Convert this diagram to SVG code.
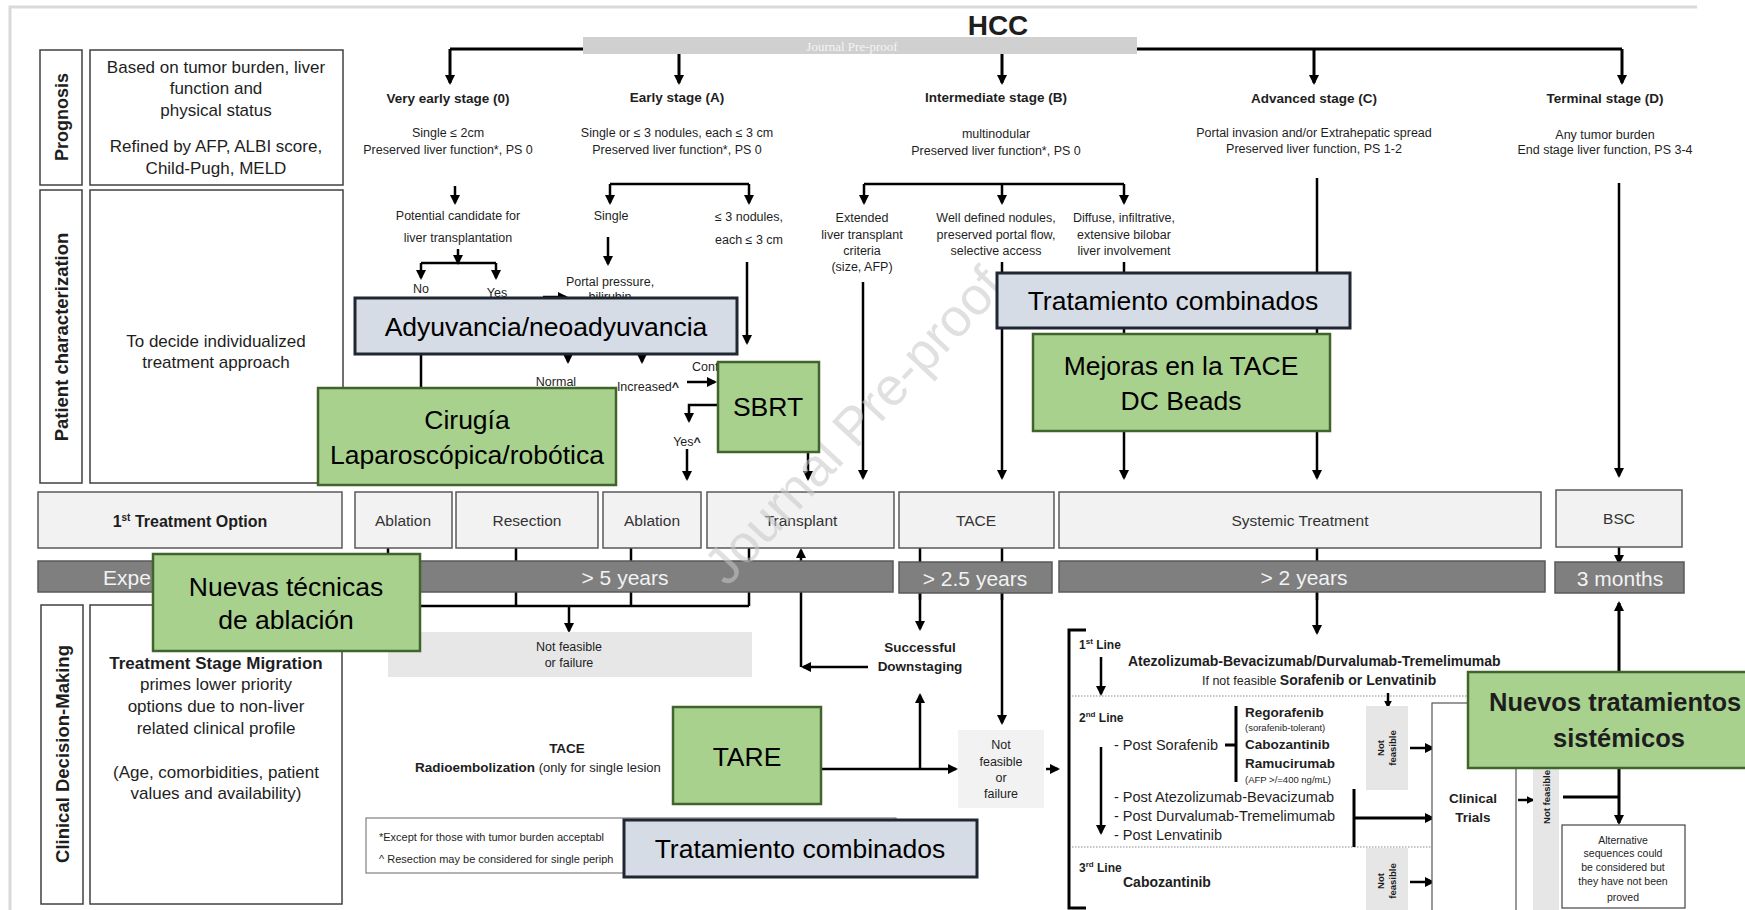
<svg xmlns="http://www.w3.org/2000/svg" width="1745" height="910" viewBox="0 0 1745 910">
<defs>
<marker id="ah" viewBox="0 0 10 10" refX="8" refY="5" markerWidth="10" markerHeight="10" markerUnits="userSpaceOnUse" orient="auto"><path d="M0,0 L10,5 L0,10 z" fill="#000"/></marker>
<marker id="as" viewBox="0 0 10 10" refX="8" refY="5" markerWidth="8" markerHeight="8" markerUnits="userSpaceOnUse" orient="auto"><path d="M0,0 L10,5 L0,10 z" fill="#000"/></marker>
<style>
.t{font-family:"Liberation Sans",Arial,sans-serif;fill:#1e1e1e}
.b{font-weight:bold}
.m{text-anchor:middle}
.box{fill:#fff;stroke:#404040;stroke-width:1.5}
.opt{fill:#f2f2f2;stroke:#595959;stroke-width:1.5}
.bar{fill:#7f7f7f;stroke:#595959;stroke-width:1.5}
.bart{fill:#f2f2f2;font-size:21px}
.grn{fill:#a9d18e;stroke:#41642c;stroke-width:2.5}
.blu{fill:#d6dce5;stroke:#1f2733;stroke-width:3}
.ov{font-size:26.5px;fill:#000}
.ln{stroke:#000;stroke-width:3;fill:none}
.th{stroke:#000;stroke-width:2.5;fill:none}
.a{marker-end:url(#ah)}
.s{marker-end:url(#as)}
.dot{stroke:#8c8c8c;stroke-width:1.2;stroke-dasharray:1.5 1.5;fill:none}
.strip{fill:#e6e6e6}
.sm{font-size:12.5px}
.opt-t{font-size:15.5px;fill:#333}
</style>
</defs>
<rect width="1745" height="910" fill="#fff"/>
<path d="M10,910 V7 H1697" fill="none" stroke="#d9d9d9" stroke-width="3"/>

<!-- connectors -->
<g id="connectors">
<path class="ln" d="M450,49 H1622"/>
<line class="ln a" x1="450" y1="49" x2="450" y2="83"/>
<line class="ln a" x1="679" y1="54" x2="679" y2="83"/>
<line class="ln a" x1="1002" y1="54" x2="1002" y2="83"/>
<line class="ln a" x1="1314" y1="49" x2="1314" y2="83"/>
<line class="ln a" x1="1622" y1="49" x2="1622" y2="83"/>
<line class="th a" x1="455" y1="186" x2="455" y2="203"/>
<line class="th a" x1="458" y1="249" x2="458" y2="263"/>
<path class="th" d="M421,263 H496"/>
<line class="th a" x1="421" y1="263" x2="421" y2="278"/>
<line class="th a" x1="496" y1="263" x2="496" y2="278"/>
<line class="th a" x1="421" y1="297" x2="421" y2="483"/>
<line class="th a" x1="543" y1="297" x2="566" y2="297"/>
<path class="th" d="M610,184 H749"/>
<line class="th a" x1="610" y1="184" x2="610" y2="203"/>
<line class="th a" x1="749" y1="184" x2="749" y2="203"/>
<line class="th a" x1="608" y1="237" x2="608" y2="264"/>
<line class="th a" x1="747" y1="262" x2="747" y2="343"/>
<line class="th a" x1="568" y1="345" x2="568" y2="362"/>
<line class="th a" x1="642" y1="345" x2="642" y2="362"/>
<line class="th a" x1="687" y1="382" x2="715" y2="382"/>
<path class="th a" d="M718,405 H689 V421"/>
<line class="th a" x1="687" y1="449" x2="687" y2="479"/>
<line class="th a" x1="808" y1="440" x2="808" y2="479"/>
<path class="th" d="M864,184 H1124"/>
<line class="th a" x1="864" y1="184" x2="864" y2="203"/>
<line class="th a" x1="1002" y1="184" x2="1002" y2="203"/>
<line class="th a" x1="1124" y1="184" x2="1124" y2="203"/>
<line class="th a" x1="863" y1="282" x2="863" y2="478"/>
<line class="th a" x1="1002" y1="262" x2="1002" y2="478"/>
<line class="th a" x1="1124" y1="262" x2="1124" y2="478"/>
<line class="th a" x1="1317" y1="178" x2="1317" y2="478"/>
<line class="th a" x1="1619" y1="183" x2="1619" y2="476"/>
<path class="th" d="M388,548 V606 M516,548 V606 M631,548 V606 M749,548 V606 M388,606 H749"/>
<line class="th a" x1="569" y1="606" x2="569" y2="631"/>
<line class="th a" x1="801" y1="667" x2="801" y2="550"/>
<line class="th a" x1="868" y1="667" x2="803" y2="667"/>
<path class="th" d="M920,548 V600 M1002,548 V600"/>
<line class="th a" x1="920" y1="592" x2="920" y2="629"/>
<line class="th a" x1="1002" y1="592" x2="1002" y2="723"/>
<line class="th a" x1="821" y1="769" x2="956" y2="769"/>
<line class="th a" x1="920" y1="769" x2="920" y2="695"/>
<line class="th a" x1="1046" y1="769" x2="1058" y2="769"/>
<path class="ln" d="M1086,630 H1069 V908 H1086"/>
<path class="th" d="M1317,548 V600"/>
<line class="th a" x1="1317" y1="592" x2="1317" y2="633"/>
<line class="th a" x1="1619" y1="547" x2="1619" y2="563"/>
<line class="th a" x1="1101" y1="657" x2="1101" y2="694"/>
<line class="th a" x1="1101" y1="747" x2="1101" y2="833"/>
<line class="dot" x1="1072" y1="696" x2="1468" y2="696"/>
<line class="dot" x1="1072" y1="847" x2="1432" y2="847"/>
<line class="th s" x1="1388" y1="693" x2="1388" y2="707"/>
<line class="th a" x1="1410" y1="748" x2="1433" y2="748"/>
<path class="ln" d="M1225,745 H1236 M1236,706 V782"/>
<path class="ln" d="M1354,789 V847"/>
<line class="ln a" x1="1354" y1="818" x2="1433" y2="818"/>
<line class="th a" x1="1410" y1="882" x2="1433" y2="882"/>
<line class="th s" x1="1518" y1="800" x2="1533" y2="800"/>
<path class="ln" d="M1563,797 H1619"/>
<line class="ln a" x1="1619" y1="797" x2="1619" y2="603"/>
<line class="ln a" x1="1619" y1="797" x2="1619" y2="823"/>
</g>

<!-- left column -->
<g id="prognosis">
<rect class="box" x="40" y="50" width="42" height="135"/>
<text class="t b m" font-size="18" transform="translate(68,117) rotate(-90)">Prognosis</text>
<rect class="box" x="90" y="50" width="253" height="135"/>
<text class="t m" font-size="17"><tspan x="216" y="73">Based on tumor burden, liver</tspan><tspan x="216" y="94">function and</tspan><tspan x="216" y="116">physical status</tspan><tspan x="216" y="152">Refined by AFP,  ALBI score,</tspan><tspan x="216" y="174">Child-Pugh, MELD</tspan></text>
</g>
<g id="patient">
<rect class="box" x="40" y="190" width="42" height="293"/>
<text class="t b m" font-size="18.5" transform="translate(68,337) rotate(-90)">Patient characterization</text>
<rect class="box" x="90" y="190" width="253" height="293"/>
<text class="t m" font-size="17"><tspan x="216" y="347">To decide individualized</tspan><tspan x="216" y="368">treatment approach</tspan></text>
</g>
<g id="clinical">
<rect class="box" x="41" y="605" width="42" height="299"/>
<text class="t b m" font-size="18.5" transform="translate(69,754) rotate(-90)">Clinical Decision-Making</text>
<rect class="box" x="90" y="605" width="252" height="299"/>
<text class="t m" font-size="17"><tspan x="216" y="669" font-weight="bold">Treatment Stage Migration</tspan><tspan x="216" y="690">primes lower priority</tspan><tspan x="216" y="712">options due to non-liver</tspan><tspan x="216" y="734">related clinical profile</tspan><tspan x="216" y="778">(Age, comorbidities, patient</tspan><tspan x="216" y="799">values and  availability)</tspan></text>
</g>

<!-- header -->
<g id="hcc">
<text class="t b m" font-size="28" x="998" y="35" fill="#000">HCC</text>
<rect x="583" y="37" width="554" height="17" fill="#d0d0d0"/>
<text x="852" y="51" font-family="'Liberation Serif','Times New Roman',serif" font-size="13" fill="#f4f4f4" text-anchor="middle">Journal Pre-proof</text>
</g>

<!-- stages -->
<g id="stage0">
<text class="t b m" font-size="13.5" x="448" y="103">Very early stage (0)</text>
<text class="t m sm"><tspan x="448" y="137">Single ≤ 2cm</tspan><tspan x="448" y="154">Preserved liver function*, PS 0</tspan></text>
<text class="t m sm"><tspan x="458" y="220">Potential candidate for</tspan><tspan x="458" y="242">liver transplantation</tspan></text>
<text class="t m sm" x="421" y="293">No</text>
<text class="t m sm" x="497" y="297">Yes</text>
</g>
<g id="stageA">
<text class="t b m" font-size="13.5" x="677" y="102">Early stage (A)</text>
<text class="t m sm"><tspan x="677" y="137">Single or ≤ 3 nodules, each ≤ 3 cm</tspan><tspan x="677" y="154">Preserved liver function*, PS 0</tspan></text>
<text class="t m sm" x="611" y="220">Single</text>
<text class="t m sm"><tspan x="749" y="221">≤ 3 nodules,</tspan><tspan x="749" y="244">each ≤ 3 cm</tspan></text>
<text class="t m sm"><tspan x="610" y="286">Portal pressure,</tspan><tspan x="610" y="301">bilirubin</tspan></text>
<text class="t m sm" x="556" y="386">Normal</text>
<text class="t m sm" x="648" y="391">Increased<tspan font-weight="bold">^</tspan></text>
<text class="t sm" x="692" y="371">Cont</text>
<text class="t m sm" x="687" y="446">Yes<tspan font-weight="bold">^</tspan></text>
</g>
<g id="stageB">
<text class="t b m" font-size="13.5" x="996" y="102">Intermediate  stage (B)</text>
<text class="t m sm"><tspan x="996" y="138">multinodular</tspan><tspan x="996" y="155">Preserved liver function*, PS 0</tspan></text>
<text class="t m sm"><tspan x="862" y="222">Extended</tspan><tspan x="862" y="239">liver transplant</tspan><tspan x="862" y="255">criteria</tspan><tspan x="862" y="271">(size, AFP)</tspan></text>
<text class="t m sm"><tspan x="996" y="222">Well defined nodules,</tspan><tspan x="996" y="239">preserved portal flow,</tspan><tspan x="996" y="255">selective access</tspan></text>
<text class="t m sm"><tspan x="1124" y="222">Diffuse, infiltrative,</tspan><tspan x="1124" y="239">extensive bilobar</tspan><tspan x="1124" y="255">liver involvement</tspan></text>
</g>
<g id="stageC">
<text class="t b m" font-size="13.5" x="1314" y="103">Advanced  stage (C)</text>
<text class="t m sm"><tspan x="1314" y="137">Portal invasion  and/or Extrahepatic spread</tspan><tspan x="1314" y="153">Preserved liver function, PS 1-2</tspan></text>
</g>
<g id="stageD">
<text class="t b m" font-size="13.5" x="1605" y="103">Terminal stage (D)</text>
<text class="t m sm"><tspan x="1605" y="139">Any tumor burden</tspan><tspan x="1605" y="154">End stage liver function, PS 3-4</tspan></text>
</g>

<!-- treatment options -->
<g id="opt-first"><rect class="opt" x="38" y="492" width="304" height="56"/><text class="t b m" font-size="16" x="190" y="527">1<tspan font-size="10" dy="-6">st</tspan><tspan dy="6"> Treatment Option</tspan></text></g>
<g id="opt-abl1"><rect class="opt" x="355" y="492" width="97" height="56"/><text class="t m opt-t" x="403" y="526">Ablation</text></g>
<g id="opt-res"><rect class="opt" x="456" y="492" width="142" height="56"/><text class="t m opt-t" x="527" y="526">Resection</text></g>
<g id="opt-abl2"><rect class="opt" x="603" y="492" width="98" height="56"/><text class="t m opt-t" x="652" y="526">Ablation</text></g>
<g id="opt-tx"><rect class="opt" x="707" y="492" width="187" height="56"/><text class="t m opt-t" x="801" y="526">Transplant</text></g>
<g id="opt-tace"><rect class="opt" x="899" y="492" width="155" height="56"/><text class="t m opt-t" x="976" y="526">TACE</text></g>
<g id="opt-sys"><rect class="opt" x="1059" y="492" width="482" height="56"/><text class="t m opt-t" x="1300" y="526">Systemic Treatment</text></g>
<g id="opt-bsc"><rect class="opt" x="1556" y="490" width="126" height="57"/><text class="t m opt-t" x="1619" y="524">BSC</text></g>

<g id="bars">
<rect class="bar" x="38" y="561" width="855" height="31"/>
<text class="t bart" x="103" y="585">Expe</text>
<text class="t bart m" x="625" y="585">&gt; 5 years</text>
<rect class="bar" x="899" y="562" width="153" height="31"/>
<text class="t bart m" x="975" y="586">&gt; 2.5 years</text>
<rect class="bar" x="1059" y="561" width="486" height="31"/>
<text class="t bart m" x="1304" y="585">&gt; 2 years</text>
<rect class="bar" x="1555" y="562" width="129" height="31"/>
<text class="t bart m" x="1620" y="586">3 months</text>
</g>

<!-- lower middle -->
<g id="notfeasible1"><rect x="388" y="632" width="364" height="45" fill="#e7e7e7"/><text class="t m sm"><tspan x="569" y="651">Not  feasible</tspan><tspan x="569" y="667">or failure</tspan></text></g>
<g id="tace-radio"><text class="t b m" font-size="13.5" x="567" y="753">TACE</text><text class="t" x="415" y="772" font-size="13"><tspan font-weight="bold" font-size="13.5">Radioembolization</tspan> (only  for single lesion</text></g>
<g id="downstaging"><text class="t b m" font-size="13.5"><tspan x="920" y="652">Successful</tspan><tspan x="920" y="671">Downstaging</tspan></text></g>
<g id="notfeasible2"><rect x="958" y="730" width="86" height="78" fill="#f2f2f2"/><text class="t m sm"><tspan x="1001" y="749">Not</tspan><tspan x="1001" y="766">feasible</tspan><tspan x="1001" y="782">or</tspan><tspan x="1001" y="798">failure</tspan></text></g>
<g id="footnote"><rect x="366" y="818" width="530" height="55" fill="#fff" stroke="#666" stroke-width="1"/><text class="t" font-size="11"><tspan x="379" y="841">*Except for  those with tumor burden acceptabl</tspan><tspan x="379" y="863">^ Resection may be considered for single periph</tspan></text></g>

<!-- systemic -->
<g id="lines">
<text class="t b" font-size="12" x="1079" y="649">1<tspan font-size="8" dy="-5">st</tspan><tspan dy="5"> Line</tspan></text>
<text class="t b" font-size="14" x="1128" y="666">Atezolizumab-Bevacizumab/Durvalumab-Tremelimumab</text>
<text class="t" font-size="12.5" x="1202" y="685">If not feasible <tspan font-weight="bold" font-size="14">Sorafenib or Lenvatinib</tspan></text>
<text class="t b" font-size="12" x="1079" y="722">2<tspan font-size="8" dy="-5">nd</tspan><tspan dy="5"> Line</tspan></text>
<text class="t" font-size="14.5" x="1114" y="750">- Post Sorafenib</text>
<text class="t b" font-size="13.5" x="1245" y="717">Regorafenib</text>
<text class="t" font-size="9.5" x="1245" y="731">(sorafenib-tolerant)</text>
<text class="t b" font-size="13.5" x="1245" y="749">Cabozantinib</text>
<text class="t b" font-size="13.5" x="1245" y="768">Ramucirumab</text>
<text class="t" font-size="9.5" x="1245" y="783">(AFP &gt;/=400 ng/mL)</text>
<text class="t" font-size="14.5"><tspan x="1114" y="802">- Post Atezolizumab-Bevacizumab</tspan><tspan x="1114" y="821">- Post Durvalumab-Tremelimumab</tspan><tspan x="1114" y="840">- Post Lenvatinib</tspan></text>
<text class="t b" font-size="12" x="1079" y="872">3<tspan font-size="8" dy="-5">rd</tspan><tspan dy="5"> Line</tspan></text>
<text class="t b" font-size="14" x="1123" y="887">Cabozantinib</text>
</g>
<g id="strips">
<rect class="strip" x="1366" y="706" width="42" height="84"/>
<text class="t b" font-size="9.5" fill="#404040" transform="translate(1384,748) rotate(-90)" text-anchor="middle"><tspan x="0" y="0">Not</tspan><tspan x="0" y="12">feasible</tspan></text>
<rect class="strip" x="1366" y="848" width="42" height="62"/>
<text class="t b" font-size="9.5" fill="#404040" transform="translate(1384,881) rotate(-90)" text-anchor="middle"><tspan x="0" y="0">Not</tspan><tspan x="0" y="12">feasible</tspan></text>
<rect class="strip" x="1533" y="703" width="26" height="207"/>
<text class="t b" font-size="9.5" fill="#404040" transform="translate(1550,797) rotate(-90)" text-anchor="middle">Not feasible</text>
</g>
<g id="trials"><rect x="1432" y="703" width="84" height="210" fill="#fff" stroke="#555" stroke-width="1.2"/><text class="t b m" font-size="13.5"><tspan x="1473" y="803">Clinical</tspan><tspan x="1473" y="822">Trials</tspan></text></g>
<g id="alternative"><rect x="1562" y="825" width="123" height="83" fill="#fff" stroke="#444" stroke-width="1.2"/><text class="t m" font-size="10.5"><tspan x="1623" y="844">Alternative</tspan><tspan x="1623" y="857">sequences could</tspan><tspan x="1623" y="871">be considered but</tspan><tspan x="1623" y="885">they have not been</tspan><tspan x="1623" y="901">proved</tspan></text></g>

<!-- watermark -->
<text transform="translate(853,425) rotate(-47)" x="0" y="19" font-family="'Liberation Sans',Arial,sans-serif" font-size="53" fill="#c8c8c8" opacity="0.55" text-anchor="middle">Journal Pre-proof</text>

<!-- overlay notes -->
<g id="note-adyuvancia"><rect class="blu" x="355" y="298" width="382" height="56"/><text class="t ov m" x="546" y="336">Adyuvancia/neoadyuvancia</text></g>
<g id="note-cirugia"><rect class="grn" x="318" y="388" width="298" height="97"/><text class="t ov m"><tspan x="467" y="429">Cirugía</tspan><tspan x="467" y="464">Laparoscópica/robótica</tspan></text></g>
<g id="note-sbrt"><rect class="grn" x="718" y="362" width="101" height="90"/><text class="t ov m" x="768" y="416">SBRT</text></g>
<g id="note-trat1"><rect class="blu" x="997" y="273" width="353" height="55"/><text class="t ov m" x="1173" y="310">Tratamiento combinados</text></g>
<g id="note-mejoras"><rect class="grn" x="1033" y="334" width="297" height="97"/><text class="t ov m"><tspan x="1181" y="375">Mejoras en la TACE</tspan><tspan x="1181" y="410">DC Beads</tspan></text></g>
<g id="note-nuevas"><rect class="grn" x="153" y="554" width="267" height="97"/><text class="t ov m"><tspan x="286" y="596">Nuevas técnicas</tspan><tspan x="286" y="629">de ablación</tspan></text></g>
<g id="note-tare"><rect class="grn" x="673" y="707" width="148" height="97"/><text class="t ov m" x="747" y="766">TARE</text></g>
<g id="note-trat2"><rect class="blu" x="624" y="820" width="353" height="57"/><text class="t ov m" x="800" y="858">Tratamiento combinados</text></g>
<g id="note-sistemicos"><rect class="grn" x="1468" y="672" width="292" height="96"/><text class="t b" font-size="25.5" fill="#000" x="1489" y="711">Nuevos tratamientos</text><text class="t b m" font-size="25.5" fill="#000" x="1619" y="747">sistémicos</text></g>
</svg>
